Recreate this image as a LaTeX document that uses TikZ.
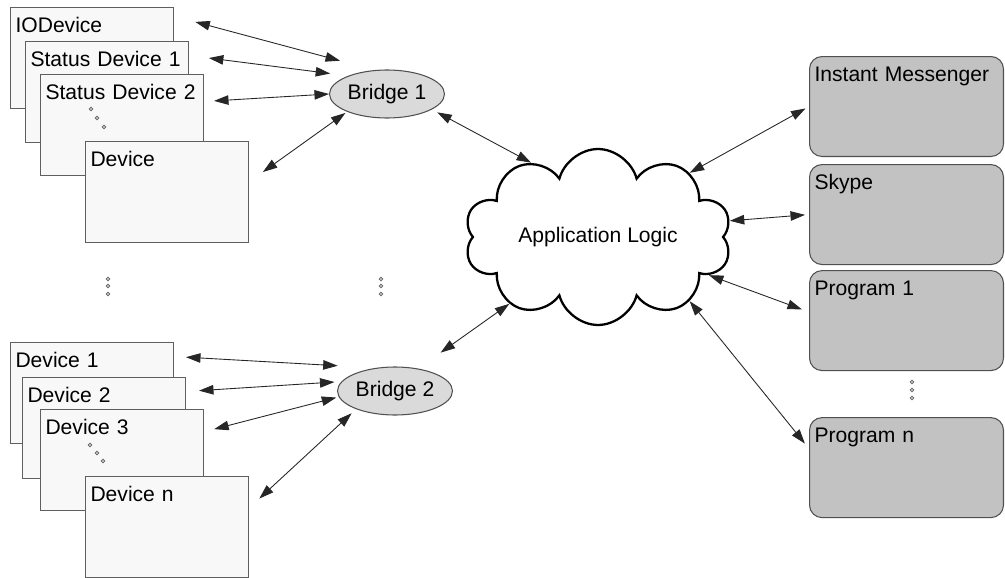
\documentclass[tikz,border=0pt]{standalone}
\usepackage{fontspec}
\setmainfont{Liberation Sans}
\usetikzlibrary{shapes.geometric, shapes.symbols, arrows.meta, positioning}
\definecolor{devfill}{RGB}{248,248,248}
\definecolor{devline}{RGB}{95,95,95}
\definecolor{progfill}{RGB}{194,194,194}
\definecolor{progline}{RGB}{80,80,80}
\definecolor{bridgefill}{RGB}{218,218,218}
\tikzset{
  basebox/.style={rectangle,align=left,inner xsep=0.1cm,inner ysep=0pt,anchor=north west,
    text height=0.5cm,font=\fontsize{12}{14}\selectfont},
  devnode/.style={basebox,draw=devline,fill=devfill,line width=0.6pt,text width=3.06cm,text depth=1.52cm},
  prognode/.style={basebox,draw=progline,fill=progfill,line width=0.6pt,rounded corners=0.25cm,
    text width=3.68cm,text depth=1.5cm},
  bridgenode/.style={ellipse,draw=progline,fill=bridgefill,line width=0.6pt,inner sep=0pt,
    minimum width=2.3cm,minimum height=0.96cm,font=\fontsize{12}{14}\selectfont},
  logicnode/.style={cloud,cloud puffs=10,aspect=1.75,draw=black,fill=white,line width=1.3pt,inner sep=0pt,
    minimum width=5.34cm,minimum height=3.1cm,font=\fontsize{12}{14}\selectfont},
  arr/.style={<->,>={Triangle[length=2.9mm,width=1.9mm]},line width=0.5pt,color=black!85},
  dotmark/.style={draw=black!60,fill=white,line width=0.5pt}
}

\begin{document}
\begin{tikzpicture}[x=0.02cm,y=-0.02cm]
  \useasboundingbox (0,0) rectangle (1005,578);

  % upper device stack
  \node[devnode] (iodev) at (10,7) {IODevice};
  \node[devnode] (stat1) at (25,41) {Status Device 1};
  \node[devnode] (stat2) at (40,74) {Status Device 2};
  \node[devnode] (dev) at (85,141) {Device};

  % lower device stack
  \node[devnode] (dev1) at (10,342) {Device 1};
  \node[devnode] (dev2) at (22,377) {Device 2};
  \node[devnode] (dev3) at (40,409) {Device 3};
  \node[devnode] (devn) at (85,476) {Device n};

  \node[bridgenode] (bridge1) at (387,94) {Bridge 1};
  \node[bridgenode] (bridge2) at (395,391) {Bridge 2};
  \node[logicnode] (logic) at (598,237) {Application Logic};

  % programs on the right
  \node[prognode] (im) at (809,56) {Instant Messenger};
  \node[prognode,below=0.14cm of im] (skype) {Skype};
  \node[prognode,below=0.1cm of skype] (prog1) {Program 1};
  \node[prognode,below=0.92cm of prog1] (progn) {Program n};

  % ellipsis dots
  \foreach \x/\y in {91/109,97/118,104/127, 90/445,97/453,103/461,
                     108/279,108/286,108/294, 381/279,381/286,381/294,
                     912/382,912/390,912/398}
    \draw[dotmark] (\x,\y) circle[radius=0.035cm];

  % devices to bridges
  \draw[arr,shorten <=4.4mm,shorten >=7.2mm] (iodev.27.4) -- (bridge1.117);
  \draw[arr,shorten <=4mm,shorten >=3.6mm] (stat1.24.6) -- (bridge1.155.8);
  \draw[arr,shorten <=2mm] (stat2.16.4) -- (bridge1.west);
  \draw[arr,shorten <=3.4mm,shorten >=0.4mm] (dev.7.7) -- (bridge1.204.9);
  \draw[arr,shorten <=2.4mm,shorten >=7.6mm] (dev1.24.4) -- (bridge2.130);
  \draw[arr,shorten <=2.6mm,shorten >=1.4mm] (dev2.24.9) -- (bridge2.170);
  \draw[arr,shorten <=2.1mm,shorten >=0.5mm] (dev3.19) -- (bridge2.186.6);
  \draw[arr,shorten <=2.8mm,shorten >=1.2mm] (devn.13.5) -- (bridge2.205.6);

  % bridges to logic
  \draw[arr,shorten <=1.2mm] (bridge1.341.2) -- (logic.132.7);
  \draw[arr,shorten <=5.5mm] (bridge2.44.7) -- (logic.217.5);

  % logic to programs
  \draw[arr,shorten >=0.8mm] (logic.35.3) -- (im.west);
  \draw[arr,shorten >=0.8mm] (logic.7.5) -- (skype.west);
  \draw[arr,shorten >=1.5mm] (logic.341) -- (prog1.175.6);
  \draw[arr,shorten >=1.3mm] (logic.325) -- (progn.169.8);
\end{tikzpicture}
\end{document}
